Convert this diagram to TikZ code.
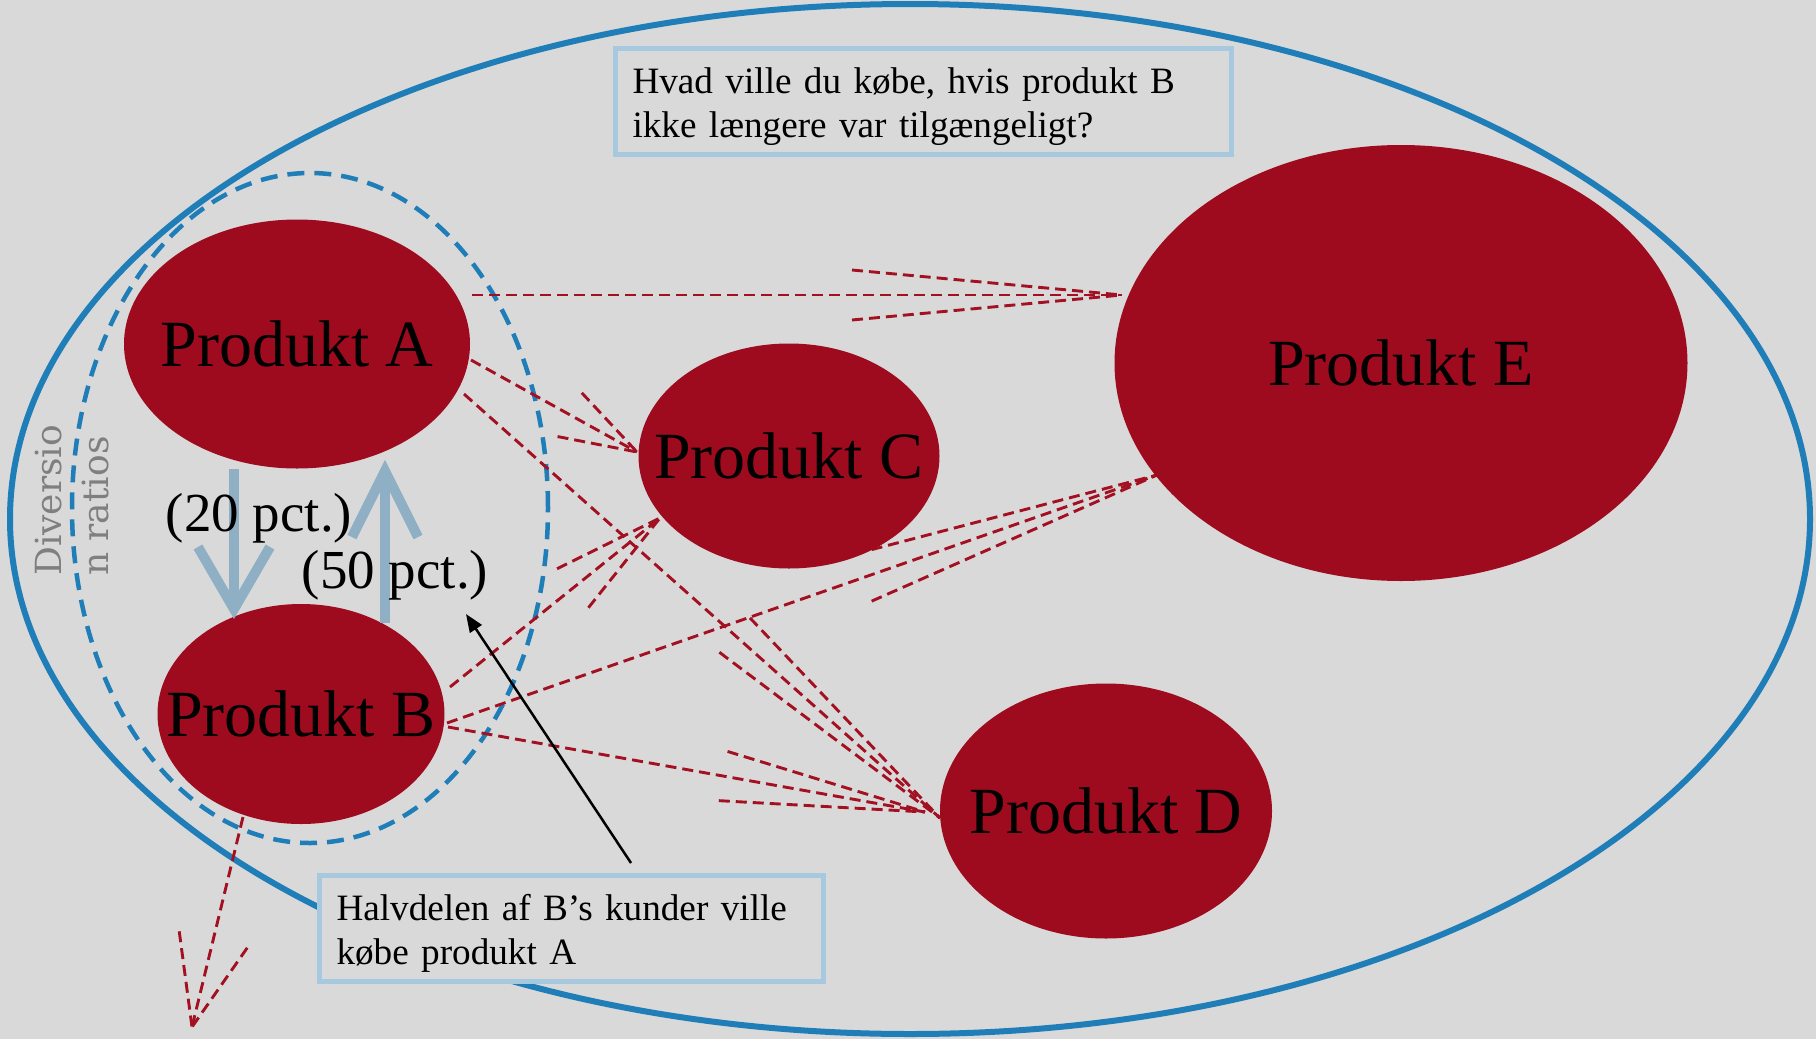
\documentclass[tikz,border=0pt]{standalone}
\usepackage{fontspec}
\setmainfont{Liberation Serif}
\newfontfamily\divfont{DejaVu Serif}
\usetikzlibrary{shapes.geometric,calc,arrows.meta}
\definecolor{bg}{RGB}{217,217,217}
\definecolor{prodred}{RGB}{158,11,30}
\definecolor{dashred}{RGB}{162,16,34}
\definecolor{outerblue}{RGB}{31,126,183}
\definecolor{boxblue}{RGB}{166,201,223}
\definecolor{steel}{RGB}{143,175,196}
\definecolor{labgray}{RGB}{127,127,127}
\tikzset{
  prod/.style={ellipse, fill=prodred, inner sep=0pt, font=\fontsize{66}{79}\selectfont},
  redash/.style={draw=dashred, line width=2.9pt, dash pattern=on 11pt off 6pt},
  infobox/.style={draw=boxblue, fill=bg, line width=5pt, align=left, inner xsep=17pt, inner ysep=0pt, font=\fontsize{37.2}{44}\selectfont},
  flow/.style={draw=steel, line width=10pt, miter limit=4},
  pct/.style={inner sep=0pt, font=\fontsize{55}{66}\selectfont},
  divlabel/.style={inner sep=0pt, text=labgray, align=left, font=\divfont\fontsize{36}{47}\selectfont},
}
\newcommand\divarrow[4]{%
  \draw[redash] (#1) -- (#2);
  \draw[redash] ($(#2)!#3!(#1)!#4!90:(#2)$) -- (#2);
  \draw[redash] ($(#2)!#3!(#1)!#4!-90:(#2)$) -- (#2);
}
\begin{document}
\begin{tikzpicture}[x=1pt,y=-1pt]
  \useasboundingbox (0,0) rectangle (1816,1039);
  \fill[bg] (0,0) rectangle (1816,1039);
  % market ellipses
  \draw[outerblue, line width=6pt] (910,519) ellipse [x radius=900pt, y radius=515pt];
  \draw[outerblue, line width=4.5pt, dash pattern=on 17pt off 10pt] (310,508) ellipse [x radius=238pt, y radius=335pt];
  % end points of the diversion arrows
  \coordinate (tAE) at (472,295);  \coordinate (hAE) at (1122,295);
  \coordinate (tAC) at (471,360);  \coordinate (hAC) at (637,452);
  \coordinate (tAD) at (464,394);  \coordinate (hAD) at (940,818);
  \coordinate (tBC) at (450,687);  \coordinate (hBC) at (660,518);
  \coordinate (tBE) at (447,723);  \coordinate (hBE) at (1157,475);
  \coordinate (tBD) at (448,727);  \coordinate (hBD) at (925,812);
  \coordinate (tBO) at (243,817);  \coordinate (hBO) at (192,1027);
  \divarrow{tAE}{hAE}{270pt}{25pt}
  \divarrow{tAC}{hAC}{77pt}{25pt}
  \divarrow{tAD}{hAD}{275pt}{23pt}
  \divarrow{tBC}{hBC}{112pt}{25pt}
  \divarrow{tBE}{hBE}{311pt}{25pt}
  \divarrow{tBD}{hBD}{205pt}{25pt}
  \divarrow{tBO}{hBO}{90pt}{35pt}
  % products
  \node[prod, minimum width=346pt, minimum height=249pt] (A) at (297,344) {\makebox[0pt]{Produkt A}};
  \node[prod, minimum width=287pt, minimum height=220pt] (B) at (301,714) {\makebox[0pt]{Produkt B}};
  \node[prod, minimum width=301pt, minimum height=225pt] (C) at (789,456) {\makebox[0pt]{Produkt C}};
  \node[prod, minimum width=332pt, minimum height=255pt] (D) at (1106,811) {\makebox[0pt]{Produkt D}};
  \node[prod, minimum width=573pt, minimum height=436pt] (E) at (1401,363) {\makebox[0pt]{Produkt E}};
  % diversion ratio arrows between A and B
  \coordinate (d1) at (234,469); \coordinate (d2) at (234,609);
  \draw[flow] (d1) -- (d2);
  \draw[flow] ($(d2)+(-36,-62)$) -- (d2) -- ($(d2)+(36,-62)$);
  \coordinate (u1) at (385,623); \coordinate (u2) at (385,471);
  \draw[flow] (u1) -- (u2);
  \draw[flow] ($(u2)+(-33,66)$) -- (u2) -- ($(u2)+(33,66)$);
  \node[pct] (p20) at (259,518) {(20 pct.)};
  \node[pct] (p50) at (395,575) {(50 pct.)};
  \node[divlabel, rotate=90, anchor=west] (div) at (72,576) {Diversio\\n ratios};
  % boxes
  \node[infobox, minimum width=616pt, minimum height=106pt, text width=582pt] (Q) at (923.5,101.5) {\rule{0pt}{36pt}Hvad ville du købe, hvis produkt B\\ikke længere var tilgængeligt?};
  \node[infobox, minimum width=504pt, minimum height=106pt, text width=470pt] (H) at (571.5,928.5) {\rule{0pt}{36pt}Halvdelen af B’s kunder ville\\købe produkt A};
  \coordinate (n1) at (631,863); \coordinate (n2) at (466,614);
  \draw[line width=2.5pt, -{Triangle[length=18pt,width=14pt]}] (n1) -- (n2);
\end{tikzpicture}
\end{document}
